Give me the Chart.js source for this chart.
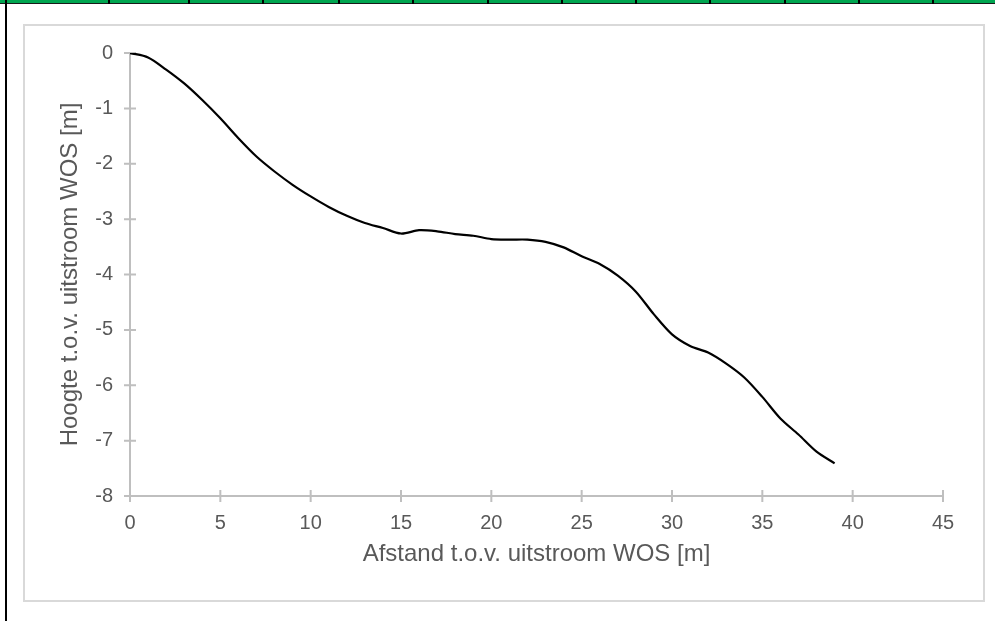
<!DOCTYPE html>
<html>
<head>
<meta charset="utf-8">
<script src="https://cdn.jsdelivr.net/npm/chart.js@4"></script>
<style>
  html, body { margin: 0; padding: 0; background: #fff; }
  body { width: 995px; height: 621px; position: relative; overflow: hidden; }
  .topbar { position: absolute; left: 0; top: 0; width: 995px; height: 3px; background: #00a650; border-bottom: 1px solid #1a1a1a; }
  .mark { position: absolute; top: 0; width: 2px; height: 4px; background: #000; }
  .leftline { position: absolute; left: 5px; top: 0; width: 2px; height: 621px; background: #000; }
  .frame { position: absolute; left: 23px; top: 24px; width: 962px; height: 578px; box-sizing: border-box; border: 2px solid #d9d9d9; }
  #chart { position: absolute; left: 0; top: 0; }
</style>
</head>
<body>
<div class="topbar"></div>
<div class="leftline"></div>
<div class="frame"></div>
<canvas id="chart" width="995" height="621"></canvas>
<script>
// afstand [m] en hoogte [m] t.o.v. uitstroom WOS
const distance = [0, 1, 2, 3, 4, 5, 6, 7, 8, 9, 10, 11, 12, 13, 14, 15, 16, 17, 18, 19,
                  20, 21, 22, 23, 24, 25, 26, 27, 28, 29, 30, 31, 32, 33, 34, 35, 36, 37, 38, 39];
const height = [0, -0.08, -0.3, -0.55, -0.85, -1.18, -1.54, -1.87, -2.14, -2.38,
                -2.59, -2.78, -2.94, -3.07, -3.16, -3.26, -3.20, -3.22, -3.27, -3.30,
                -3.36, -3.37, -3.37, -3.41, -3.51, -3.67, -3.81, -4.02, -4.31, -4.72,
                -5.08, -5.29, -5.41, -5.61, -5.86, -6.21, -6.60, -6.89, -7.20, -7.41];
const xTicks = [0, 5, 10, 15, 20, 25, 30, 35, 40, 45];
const yTicks = [0, -1, -2, -3, -4, -5, -6, -7, -8];

// black marks of the sheet grid above the chart
const markX = [108, 188, 262, 338, 412, 487, 561, 635, 709, 784, 858, 932];
markX.forEach(x => {
    const m = document.createElement('div');
    m.className = 'mark';
    m.style.left = x + 'px';
    document.body.appendChild(m);
});

const AXIS = '#bfbfbf';
const TEXT = '#595959';
const FONT = '"Liberation Sans", Arial, sans-serif';

// axis lines with cross tick marks, like Excel
const crossAxes = {
    id: 'crossAxes',
    beforeDatasetsDraw(chart) {
        const { ctx, chartArea: a, scales: { x, y } } = chart;
        ctx.save();
        ctx.strokeStyle = AXIS;
        ctx.lineWidth = 2;
        ctx.beginPath();
        ctx.moveTo(a.left, a.top);
        ctx.lineTo(a.left, a.bottom);
        ctx.moveTo(a.left, a.bottom);
        ctx.lineTo(a.right, a.bottom);
        yTicks.forEach(v => {
            const py = y.getPixelForValue(v);
            ctx.moveTo(a.left - 6, py);
            ctx.lineTo(a.left + 6, py);
        });
        xTicks.forEach(v => {
            const px = x.getPixelForValue(v);
            ctx.moveTo(px, a.bottom - 6);
            ctx.lineTo(px, a.bottom + 6);
        });
        ctx.stroke();
        ctx.restore();
    },
};

new Chart(document.getElementById('chart').getContext('2d'), {
    type: 'line',
    data: {
        datasets: [{
            data: distance.map((d, i) => ({ x: d, y: height[i] })),
            borderColor: '#000',
            borderWidth: 2.2,
            pointRadius: 0,
            tension: 0.3,
            fill: false,
        }],
    },
    options: {
        responsive: false,
        animation: false,
        layout: { padding: { left: 56, right: 52, top: 53, bottom: 52.2 } },
        plugins: { legend: { display: false }, tooltip: { enabled: false } },
        scales: {
            x: {
                type: 'linear',
                min: 0,
                max: 45,
                afterBuildTicks: s => { s.ticks = xTicks.map(v => ({ value: v })); },
                grid: { display: false, drawTicks: false },
                border: { display: false },
                ticks: { color: TEXT, padding: 15, font: { family: FONT, size: 20 }, maxRotation: 0 },
                title: {
                    display: true,
                    text: 'Afstand t.o.v. uitstroom WOS [m]',
                    color: TEXT,
                    font: { family: FONT, size: 24 },
                    padding: { top: -10, bottom: 0 },
                },
            },
            y: {
                min: -8,
                max: 0,
                afterBuildTicks: s => { s.ticks = yTicks.map(v => ({ value: v })); },
                afterFit: s => { s.width = 74; },
                grid: { display: false, drawTicks: false },
                border: { display: false },
                ticks: { color: TEXT, padding: 17, font: { family: FONT, size: 20 } },
                title: {
                    display: true,
                    text: 'Hoogte t.o.v. uitstroom WOS [m]',
                    color: TEXT,
                    font: { family: FONT, size: 24 },
                    padding: { top: 0, bottom: 0 },
                },
            },
        },
    },
    plugins: [crossAxes],
});
</script>
</body>
</html>
